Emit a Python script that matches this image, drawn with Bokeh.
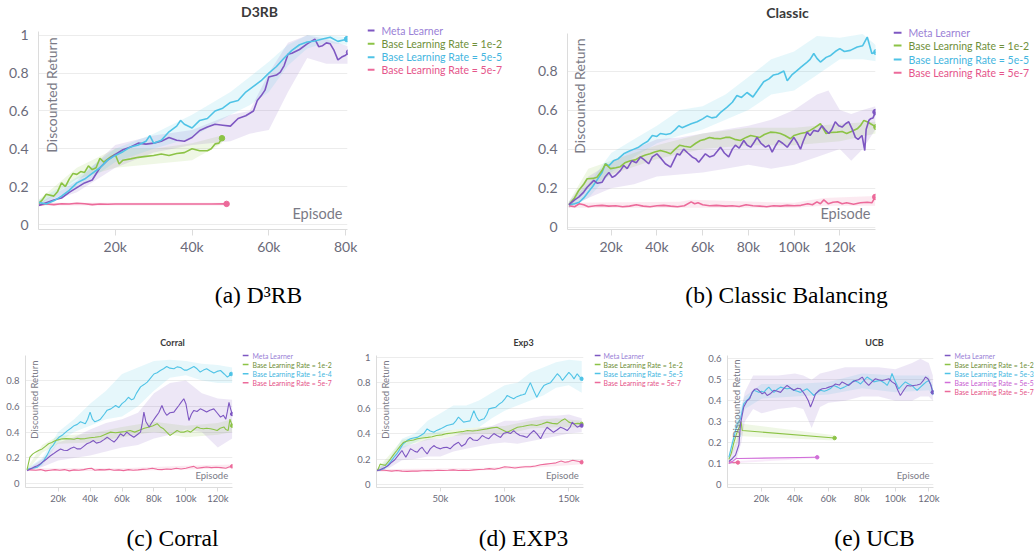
from bokeh.plotting import figure
from bokeh.models import Range1d, FixedTicker, NumeralTickFormatter, Label
from bokeh.core.properties import value
from bokeh.layouts import row, column
from bokeh.embed import file_html
from bokeh.resources import INLINE

# ------------------------------------------------------------------ data
# x values in thousands of episodes, y = discounted return
NAMES_A = ["Meta Learner", "Base Learning Rate = 1e-2", "Base Learning Rate = 5e-5", "Base Learning Rate = 5e-7"]
NAMES_B = ["Meta Learner", "Base Learning Rate = 1e-2", "Base Learning Rate = 5e-5", "Base Learning Rate = 5e-7"]
NAMES_C = ["Meta Learner", "Base Learning Rate = 1e-2", "Base Learning Rate = 1e-4", "Base Learning Rate = 5e-7"]
NAMES_D = ["Meta Learner", "Base Learning Rate = 1e-2", "Base Learning Rate = 5e-5", "Base Learning rate = 5e-7"]
NAMES_E = ["Meta Learner", "Base Learning Rate = 1e-2", "Base Learning Rate = 5e-3", "Base Learning Rate = 5e-5", "Base Learning Rate = 5e-7"]

TITLES = ["D3RB", "Classic", "Corral", "Exp3", "UCB"]
CAPTIONS = ["(a) D\u00b3RB", "(b) Classic Balancing", "(c) Corral", "(d) EXP3", "(e) UCB"]

XTICKS_A = [20, 40, 60, 80]
XTICKS_B = [20, 40, 60, 80, 100, 120]
XTICKS_C = [20, 40, 60, 80, 100, 120]
XTICKS_D = [50, 100, 150]
XTICKS_E = [20, 40, 60, 80, 100, 120]
YTICKS_A = [0, 0.2, 0.4, 0.6, 0.8, 1.0]
YTICKS_B = [0, 0.2, 0.4, 0.6, 0.8]
YTICKS_C = [0, 0.2, 0.4, 0.6, 0.8]
YTICKS_D = [0, 0.2, 0.4, 0.6, 0.8, 1.0]
YTICKS_E = [0, 0.1, 0.2, 0.3, 0.4, 0.5, 0.6]

# ---- (a) D3RB
A_META = [(0,.100),(2,.115),(4,.130),(6,.140),(8,.170),(10,.195),(12,.220),(14,.235),(16,.300),(18,.340),
          (20,.370),(22,.395),(24,.410),(26,.430),(28,.425),(30,.430),(32,.440),(34,.460),(36,.445),(38,.440),
          (40,.460),(42,.497),(44,.515),(46,.530),(48,.525),(50,.520),(52,.560),(54,.575),(56,.600),(57,.655),
          (58,.680),(59,.710),(60,.780),(62,.790),(63,.805),(64,.840),(65,.900),(66,.905),(68,.925),(70,.955),
          (72,.980),(73,.940),(74,.945),(75,.960),(76,.955),(77,.920),(78,.870),(79,.885),(80,.895),(80.9,.910)]
A_LR2 = [(0,.110),(1,.130),(2,.160),(4,.150),(5,.175),(6,.220),(7,.200),(8,.240),(9,.270),(10,.265),(11,.280),
         (12,.275),(13,.310),(14,.290),(15,.300),(16,.350),(17,.330),(18,.345),(19,.360),(20,.370),(21,.320),
         (22,.340),(24,.347),(26,.355),(28,.360),(30,.365),(32,.373),(34,.365),(36,.375),(38,.380),(40,.400),
         (42,.390),(44,.390),(45,.400),(46,.426),(47,.430),(47.8,.456)]
A_LR5 = [(0,.118),(2,.108),(4,.125),(6,.150),(8,.180),(10,.220),(12,.240),(14,.270),(16,.300),(18,.340),
         (20,.365),(22,.385),(24,.410),(26,.420),(28,.440),(29,.470),(30,.430),(32,.445),(34,.490),(36,.520),
         (37,.550),(38,.530),(40,.510),(42,.550),(44,.560),(46,.600),(48,.615),(50,.645),(52,.655),(54,.700),
         (56,.730),(58,.760),(60,.800),(62,.835),(64,.880),(66,.920),(68,.950),(70,.965),(72,.970),(74,.980),
         (76,.990),(78,.968),(80,.978),(80.4,.980)]
A_LR7 = [(0,.100),(2,.108),(4,.105),(6,.110),(8,.108),(10,.112),(12,.110),(14,.105),(16,.108),(18,.107),
         (20,.108),(25,.108),(30,.108),(35,.108),(40,.108),(45,.108),(49,.109)]
A_META_BAND = [(0,.10,.11),(10,.17,.23),(20,.30,.42),(30,.38,.47),(40,.42,.50),(50,.44,.58),(55,.48,.60),
               (60,.50,.80),(65,.70,.96),(70,.88,1.0),(75,.85,.98),(80.9,.85,.94)]
A_LR2_BAND = [(0,.10,.13),(10,.24,.30),(20,.30,.40),(30,.32,.40),(40,.34,.43),(47.8,.43,.47)]
A_LR5_BAND = [(0,.10,.13),(10,.19,.25),(20,.33,.40),(30,.40,.48),(40,.46,.58),(50,.58,.70),(55,.63,.78),
              (60,.70,.86),(65,.84,.95),(70,.93,1.0),(75,.96,1.0),(80.4,.95,.99)]
A_LR7_BAND = [(0,.10,.115),(49,.10,.115)]

# ---- (b) Classic
B_META = [(1.5,.116),(4,.140),(5.8,.154),(8,.180),(9.5,.205),(12.4,.240),(14,.225),(16,.230),(17.5,.260),(19,.280),
          (20.5,.255),(21.9,.265),(24,.290),(25.5,.316),(27,.300),(29,.340),(31,.330),(32.8,.360),(34.5,.345),
          (36.4,.325),(38,.360),(40,.376),(42,.350),(43.7,.325),(46,.308),(48.8,.376),(50,.370),(51.7,.400),
          (53.5,.380),(55.4,.360),(57,.350),(58.3,.333),(61.2,.376),(63,.360),(64.9,.367),(66.5,.390),(67.8,.410),
          (69.5,.380),(71.4,.360),(73,.400),(74.3,.420),(76,.405),(78,.444),(79.5,.420),(81,.410),(82.5,.435),
          (83.8,.460),(85.5,.430),(87.5,.410),(89,.420),(90.4,.385),(92,.420),(93.3,.444),(95,.430),(97,.410),
          (98.5,.435),(99.9,.460),(101.5,.430),(102.8,.400),(104,.440),(105.7,.487),(107,.470),(108.6,.496),
          (110.5,.490),(112.2,.520),(113.5,.500),(115.2,.480),(116.5,.500),(118,.540),(119.5,.520),(121,.513),
          (122.5,.530),(123.9,.540),(125.5,.500),(126.8,.460),(128,.450),(129.7,.470),(130.9,.393),(131.5,.500),
          (132.7,.547),(133.4,.555),(134.5,.560),(135.6,.590)]
B_LR2 = [(1.5,.115),(4,.150),(5.8,.188),(8,.220),(9.5,.248),(12,.250),(13.8,.256),(16,.290),(17.5,.325),(19.7,.300),
         (22,.305),(24,.310),(26,.330),(28.4,.340),(30.5,.345),(32.8,.360),(35,.370),(37,.376),(39,.385),(41.5,.393),
         (44,.385),(46,.376),(48,.400),(50,.420),(52,.415),(54.7,.410),(57,.430),(59,.444),(61,.450),(63,.460),
         (65,.455),(67.8,.453),(70,.460),(72,.460),(74,.450),(76.5,.444),(79,.460),(81,.470),(83,.465),(85,.460),
         (87,.475),(89.6,.487),(92,.485),(94,.480),(96,.470),(98.4,.453),(100,.470),(102.8,.480),(105,.485),
         (107,.496),(109,.510),(111.5,.530),(114,.480),(116,.485),(118.8,.487),(121,.490),(123,.480),(125,.490),
         (127.6,.504),(129,.520),(130.5,.547),(132,.540),(133.4,.530),(136,.513)]
B_LR5 = [(1.5,.115),(4,.120),(6,.128),(8,.150),(10,.180),(12,.210),(14,.245),(16,.280),(17.5,.325),(19,.315),
         (21,.340),(23,.350),(25.5,.376),(28,.390),(30,.400),(32,.410),(34,.427),(36,.440),(38,.470),(40,.465),
         (41.5,.480),(44,.475),(46,.480),(48,.500),(49.6,.520),(51,.510),(53,.520),(55,.530),(57.6,.540),(60,.555),
         (62,.570),(64,.560),(66,.565),(68,.590),(70.7,.615),(73,.640),(75,.675),(77,.665),(79.4,.690),(82,.667),
         (84,.700),(86.7,.745),(89,.760),(91,.780),(93,.785),(95.5,.800),(97,.750),(99,.780),(101,.800),(103,.820),
         (105.7,.846),(107,.860),(108.6,.890),(110,.865),(111.5,.846),(114,.870),(116,.880),(118,.900),(120,.915),
         (122,.900),(124.6,.906),(127.6,.923),(130,.930),(132,.974),(134,.890),(136,.897)]
B_LR7 = [(1.5,.110),(4,.105),(6,.120),(8,.115),(10,.105),(13,.110),(16,.112),(19,.108),(22,.110),(25,.105),
         (28,.108),(31,.115),(34,.108),(37,.105),(40,.110),(43,.112),(46,.108),(49,.105),(52,.110),(55,.130),
         (56.5,.120),(58,.125),(60,.115),(63,.110),(66,.112),(70,.108),(73,.110),(76,.106),(79,.115),(82,.110),
         (85,.108),(88,.105),(91,.110),(94,.108),(97,.112),(100,.110),(103,.112),(106,.120),(108,.115),(110,.130),
         (111.5,.120),(113,.140),(115,.120),(117,.128),(119,.130),(121,.120),(123,.125),(126,.118),(129,.125),
         (132,.128),(134,.125),(135.5,.155)]
B_META_BAND = [(1.5,.10,.13),(10,.15,.26),(20,.20,.33),(30,.22,.40),(40,.26,.45),(50,.27,.46),(60,.28,.48),
               (70,.30,.50),(80,.32,.52),(90,.30,.55),(100,.32,.60),(110,.36,.68),(115,.38,.70),(120,.40,.60),
               (125,.34,.58),(130,.40,.60),(135.6,.50,.62)]
B_LR2_BAND = [(1.5,.10,.13),(10,.20,.30),(20,.27,.34),(40,.35,.42),(60,.40,.48),(80,.42,.51),(100,.42,.51),
              (120,.44,.53),(136,.48,.54)]
B_LR5_BAND = [(1.5,.10,.13),(10,.15,.22),(20,.28,.38),(30,.36,.45),(40,.43,.52),(50,.47,.60),(60,.50,.62),
              (70,.55,.68),(80,.60,.77),(90,.68,.86),(100,.70,.90),(110,.78,.98),(120,.86,.97),(130,.86,.99),
              (136,.85,.93)]
B_LR7_BAND = [(1.5,.10,.125),(50,.10,.13),(55,.10,.14),(100,.10,.125),(113,.11,.15),(135.5,.11,.16)]

# ---- (c) Corral
C_META = [(0.5,.100),(2.5,.115),(4.8,.129),(7,.140),(9,.155),(11,.175),(13,.194),(15,.215),(17,.232),(19,.250),
          (21.5,.270),(23.5,.260),(25.7,.258),(28,.275),(30,.284),(32,.270),(34,.270),(36,.290),(38,.310),(40,.320),
          (42,.335),(44,.315),(46.5,.323),(48.5,.340),(50.7,.360),(53,.340),(55,.323),(57,.350),(59,.387),(61,.370),
          (63,.400),(65,.380),(67.4,.360),(69.5,.380),(71.6,.400),(72.7,.470),(73.7,.555),(75,.480),(77,.440),
          (79,.480),(81,.516),(83,.550),(85,.606),(86.5,.560),(88,.530),(90,.550),(92.5,.555),(94,.580),(95.6,.606),
          (97,.630),(98.7,.658),(100,.620),(101.9,.490),(103.5,.540),(105,.568),(107,.560),(109,.580),(111,.570),
          (113,.555),(115,.570),(117.5,.580),(119.5,.550),(121.7,.516),(123.5,.530),(125,.500),(126,.560),
          (127,.630),(128,.580),(129,.540)]
C_LR2 = [(0.5,.108),(2.3,.206),(4,.230),(5.8,.245),(8,.260),(10,.270),(12,.290),(14,.310),(16,.320),(18.4,.335),
         (20,.340),(22.5,.348),(25,.350),(27.8,.348),(30,.345),(32,.352),(34,.348),(37,.350),(40,.356),(43,.360),
         (46.5,.366),(49,.380),(52.8,.400),(56,.395),(59,.400),(62,.405),(65,.413),(68,.400),(71.6,.418),(74,.430),
         (77,.440),(79.5,.450),(82,.465),(84,.440),(86,.426),(88,.400),(90,.374),(92,.390),(94.5,.413),(96.5,.400),
         (98.7,.400),(101,.410),(103,.400),(105,.420),(107,.440),(109,.430),(111,.426),(113,.430),(115.4,.426),
         (117.5,.420),(119.6,.413),(121.5,.430),(123.8,.440),(125,.420),(126.5,.413),(127.6,.500),(129,.450)]
C_LR4 = [(0.5,.110),(2,.116),(4,.120),(7,.129),(9,.150),(11,.180),(13,.220),(15,.270),(17,.300),(19,.340),
         (20.5,.360),(23,.380),(25.7,.410),(28,.430),(30,.450),(32,.460),(34,.480),(37,.465),(38.5,.500),(40,.555),
         (41.5,.500),(43,.480),(45,.490),(46.5,.500),(49,.540),(50.7,.570),(53,.580),(56,.606),(58,.590),(60,.620),
         (62,.640),(64,.670),(66,.650),(67.4,.658),(69,.700),(71.6,.750),(74,.770),(75.8,.787),(78,.820),(80,.850),
         (82,.860),(84,.877),(86,.890),(88,.908),(90,.895),(92.5,.890),(94.5,.905),(96.7,.900),(99,.880),
         (100.8,.880),(103,.895),(105,.908),(107,.890),(109,.865),(111,.880),(113,.890),(115,.875),(117.5,.857),
         (119.5,.870),(121.7,.877),(124,.850),(126,.826),(127.5,.840),(128.4,.850)]
C_LR7 = [(0.5,.110),(3,.108),(6,.105),(9,.110),(12,.100),(15,.105),(18,.110),(21,.105),(24,.110),(27,.100),
         (30,.108),(33,.105),(36,.110),(39,.118),(41,.120),(43,.105),(46,.110),(49,.108),(52,.112),(55,.105),
         (58,.108),(61,.102),(64,.110),(67,.105),(70,.108),(73,.112),(76,.115),(79,.120),(82,.112),(85,.110),
         (88,.115),(91,.112),(94,.120),(97,.115),(100,.120),(103,.130),(105,.135),(107,.120),(110,.125),(113,.130),
         (116,.125),(119,.128),(122,.125),(125,.120),(127,.130),(129,.135)]
C_META_BAND = [(0.5,.10,.11),(10,.13,.19),(20,.18,.32),(30,.20,.36),(40,.22,.42),(50,.25,.47),(60,.28,.50),
               (70,.30,.55),(80,.35,.70),(90,.38,.78),(100,.42,.80),(110,.40,.70),(120,.28,.66),(129,.35,.65)]
C_LR2_BAND = [(0.5,.10,.12),(10,.24,.30),(20,.31,.37),(40,.32,.39),(60,.36,.44),(80,.40,.48),(100,.36,.45),
              (120,.38,.47),(129,.40,.50)]
C_LR4_BAND = [(0.5,.10,.12),(10,.14,.20),(20,.32,.40),(30,.40,.50),(40,.45,.62),(50,.50,.72),(60,.52,.85),
              (70,.60,.90),(80,.72,.95),(90,.82,.96),(100,.84,.95),(110,.80,.93),(120,.78,.92),(129,.78,.90)]
C_LR7_BAND = [(0.5,.10,.12),(60,.10,.12),(100,.11,.14),(129,.12,.15)]

# ---- (d) Exp3
D_META = [(0.5,.110),(3,.115),(7,.136),(9.5,.150),(12,.175),(14,.190),(16,.215),(18,.240),(20,.267),(21.5,.240),
          (23,.215),(25,.250),(26.6,.280),(28.5,.270),(30,.260),(32,.254),(34,.280),(35.7,.293),(37.5,.265),
          (39.6,.240),(42,.280),(44.8,.306),(47,.290),(50,.280),(52.5,.290),(55,.293),(57.5,.280),(60,.306),
          (62,.320),(64,.332),(66.5,.300),(69.5,.320),(71,.350),(73,.370),(75.5,.350),(78.6,.345),(80.5,.360),
          (82.5,.385),(85,.370),(87.7,.360),(89.5,.380),(91.6,.400),(94,.385),(96.8,.370),(99,.400),(102,.410),
          (104.5,.400),(107,.424),(109.5,.400),(112,.385),(114.5,.380),(117.5,.370),(120,.400),(122.7,.424),
          (125,.400),(128,.360),(130.5,.410),(133,.450),(135.5,.430),(138,.410),(141,.430),(143.5,.450),(146,.440),
          (148.7,.424),(151,.450),(152.6,.490),(154.5,.470),(156.5,.450),(158.5,.460),(160,.463)]
D_LR2 = [(0.5,.110),(1.4,.120),(3,.160),(5,.155),(7,.150),(9,.175),(11,.200),(13.5,.235),(16,.267),(18.5,.300),
         (21,.330),(23.5,.340),(26.6,.345),(29,.350),(32,.360),(36,.365),(40,.370),(43.5,.375),(47,.385),(51,.390),
         (55,.400),(59,.405),(63,.410),(67,.415),(71,.424),(75,.420),(78.6,.424),(82,.430),(86,.437),(90,.445),
         (94,.450),(98,.430),(102,.410),(106,.430),(110,.450),(114,.455),(117.5,.463),(121,.470),(125,.463),
         (129,.475),(133,.490),(137,.480),(141,.476),(144,.500),(147,.516),(150,.490),(154,.476),(157,.480),
         (160,.476)]
D_LR5 = [(1,.110),(3,.115),(5.8,.123),(8,.140),(11,.175),(13.5,.210),(16,.240),(18.5,.280),(21,.320),(24,.345),
         (26.6,.360),(29,.365),(32,.370),(34.5,.385),(37,.400),(39.6,.437),(42,.420),(44.8,.410),(47,.425),
         (50,.437),(52.5,.450),(55,.463),(57.5,.470),(60,.476),(62,.500),(64,.530),(66,.510),(68,.490),
         (70.5,.495),(73,.500),(74.5,.540),(76,.580),(78,.530),(80,.500),(82,.510),(84,.516),(86,.550),
         (87.7,.594),(90,.600),(93,.607),(95.5,.630),(98,.647),(100,.670),(102,.700),(104.5,.685),(107,.673),
         (109.5,.690),(112,.700),(114,.705),(116,.712),(118,.760),(120,.800),(122.5,.740),(125,.686),(128,.740),
         (130.5,.777),(133,.790),(135.7,.800),(138,.830),(141,.870),(143,.850),(145,.817),(147.5,.850),(150,.880),
         (152,.860),(154,.830),(156.5,.870),(158,.850),(160,.830)]
D_LR7 = [(0.5,.110),(4,.115),(8,.110),(12,.105),(16,.110),(20,.105),(24,.103),(28,.105),(32,.105),(36,.108),
         (40,.110),(44,.108),(48,.112),(52,.110),(56,.112),(60,.115),(64,.110),(68,.112),(72,.110),(76,.115),
         (80,.118),(84,.120),(88,.125),(92,.120),(96,.128),(100,.140),(104,.135),(108,.130),(112,.135),(116,.140),
         (120,.140),(124,.145),(128,.155),(132,.160),(136,.165),(140,.170),(144,.185),(147,.175),(150,.180),
         (153,.190),(156,.185),(158,.180),(160,.175)]
D_META_BAND = [(0.5,.10,.12),(10,.13,.18),(20,.19,.30),(30,.20,.32),(40,.22,.36),(50,.22,.36),(60,.26,.38),
               (70,.28,.42),(80,.30,.44),(90,.32,.46),(100,.33,.50),(110,.32,.50),(120,.34,.52),(130,.36,.54),
               (140,.38,.54),(150,.40,.55),(160,.41,.52)]
D_LR2_BAND = [(0.5,.10,.12),(10,.17,.23),(20,.30,.35),(40,.35,.40),(60,.38,.43),(80,.40,.45),(100,.39,.46),
              (120,.44,.50),(140,.45,.52),(160,.45,.50)]
D_LR5_BAND = [(0.5,.10,.12),(10,.15,.20),(20,.28,.36),(30,.33,.40),(40,.38,.50),(50,.40,.56),(60,.43,.62),
              (70,.44,.62),(80,.45,.66),(90,.52,.72),(100,.58,.78),(110,.62,.80),(120,.66,.88),(130,.70,.92),
              (140,.76,.96),(150,.78,.98),(160,.72,.97)]
D_LR7_BAND = [(0.5,.10,.12),(80,.11,.13),(120,.13,.15),(160,.16,.19)]

# ---- (e) UCB
E_META = [(0.5,.110),(2.5,.123),(4.5,.140),(6.5,.190),(7.5,.290),(9.4,.370),(11.4,.400),(13,.410),(14.4,.440),
          (16,.455),(17.4,.457),(19,.445),(20.4,.433),(22,.440),(23.4,.425),(25.5,.435),(27.4,.450),(29.5,.445),
          (31.4,.440),(33.5,.460),(35.3,.473),(37.5,.460),(39.3,.450),(41.5,.460),(43.3,.457),(45,.440),
          (46.3,.425),(48,.400),(49.3,.370),(50.8,.400),(52.3,.433),(54.5,.450),(56.3,.457),(58.5,.460),
          (60.3,.465),(62.5,.470),(64.2,.480),(66.5,.475),(68.2,.490),(70.5,.480),(72.2,.473),(74.5,.490),
          (76.2,.497),(78,.500),(80.2,.513),(82,.490),(84.1,.473),(86,.490),(88.1,.505),(90,.500),(92.1,.497),
          (94,.500),(96.1,.505),(98,.490),(100,.480),(101.5,.450),(103,.425),(105,.450),(107,.473),(109,.470),
          (111,.473),(113,.475),(115,.480),(117,.500),(118,.513),(119.5,.505),(121,.480),(122.4,.440)]
E_LR2 = [(0.5,.120),(2,.150),(3.5,.200),(5,.240),(6.5,.270),(7.8,.300),(8.5,.258),(63.7,.222)]
E_LR3 = [(0.5,.130),(2.5,.194),(4,.240),(5.5,.290),(7.5,.314),(9.4,.385),(11,.400),(12.4,.410),(14,.430),
         (15.4,.450),(17,.445),(18.4,.440),(20,.445),(21.4,.440),(23,.455),(24.4,.465),(26,.450),(27.4,.440),
         (29.5,.455),(31.4,.465),(33.5,.460),(35.3,.457),(37.5,.460),(39.3,.450),(41.5,.445),(43.3,.440),
         (45.5,.450),(47.3,.457),(49.5,.440),(51.3,.425),(53.5,.440),(55.3,.450),(57.5,.445),(59.2,.450),
         (61.5,.460),(63.2,.473),(65.5,.465),(67.2,.457),(69.5,.465),(71.2,.473),(73.5,.485),(75.2,.497),
         (77.5,.490),(79.2,.480),(81.5,.500),(83.1,.513),(85.5,.500),(87.1,.490),(89.5,.495),(91.1,.497),
         (93.5,.485),(95.1,.473),(96.8,.500),(98,.530),(99.5,.500),(102,.457),(104,.475),(106,.490),(108,.480),
         (110,.473),(111.5,.460),(113,.450),(115,.465),(117,.480),(118.5,.490),(120,.497),(121.5,.470),(122.4,.440)]
E_LR5 = [(0.5,.100),(2,.105),(3.5,.115),(5,.125),(6,.124),(53.3,.130)]
E_LR7 = [(0.5,.105),(2,.108),(3.5,.104),(5,.106),(5.9,.105)]
E_META_BAND = [(0.5,.10,.12),(5,.12,.20),(8,.20,.36),(10,.30,.44),(15,.36,.52),(20,.34,.52),(30,.36,.52),
               (40,.37,.53),(45,.36,.52),(50,.27,.50),(55,.37,.53),(60,.39,.54),(70,.40,.56),(80,.42,.56),
               (90,.42,.56),(100,.40,.55),(110,.40,.58),(115,.42,.60),(120,.42,.58),(122.4,.40,.52)]
E_LR2_BAND = [(0.5,.11,.13),(7.8,.24,.30),(8.5,.23,.29),(63.7,.21,.235)]
E_LR3_BAND = [(0.5,.12,.14),(5,.24,.32),(10,.36,.42),(20,.41,.48),(40,.42,.48),(60,.43,.49),(80,.46,.53),
              (100,.44,.52),(120,.45,.52),(122.4,.42,.47)]
E_LR5_BAND = [(0.5,.10,.11),(53.3,.125,.135)]
E_LR7_BAND = [(0.5,.10,.11),(5.9,.10,.11)]

# ------------------------------------------------------------------ styles
PURPLE, GREEN, CYAN, PINK, MAGENTA = "#7e57c2", "#8cc346", "#4fc3e6", "#ec6a9a", "#d16fd9"
T_PURPLE, T_GREEN, T_CYAN, T_PINK, T_MAGENTA = "#9a7fd6", "#6f8f3a", "#45b6e0", "#e5558a", "#c860d2"
FONT = "Lato"
TICK_COLOR = "#6b6b7a"
LABEL_COLOR = "#7a7a86"
PAGE_W = 1035

# geometry in page pixels.  ox/oy: figure origin; l/fw/r: left border, frame width, right border;
# fb: frame bottom; zero/ppu: page y of value 0 and pixels per unit; ytop: top of the drawn axis
PANELS = [
    dict(names=NAMES_A, xticks=XTICKS_A, yticks=YTICKS_A, title=TITLES[0], big=True,
         series=[(A_META, A_META_BAND, PURPLE, T_PURPLE), (A_LR2, A_LR2_BAND, GREEN, T_GREEN),
                 (A_LR5, A_LR5_BAND, CYAN, T_CYAN), (A_LR7, A_LR7_BAND, PINK, T_PINK)],
         order=[3, 1, 0, 2],
         ox=0, oy=0, l=38, fw=309, r=20, fb=229, b=33, legw=153, xr=(0, 80500),
         zero=224, ppu=189.2, ytop=1.02,
         leg_rows=[30, 43.3, 56.7, 69.3], leg_x=367, leg_gw=7, leg_text=381,
         dr=(42, 37), ep=(342, 221), title_at=(259, 11)),
    dict(names=NAMES_B, xticks=XTICKS_B, yticks=YTICKS_B, title=TITLES[1], big=True,
         series=[(B_META, B_META_BAND, PURPLE, T_PURPLE), (B_LR2, B_LR2_BAND, GREEN, T_GREEN),
                 (B_LR5, B_LR5_BAND, CYAN, T_CYAN), (B_LR7, B_LR7_BAND, PINK, T_PINK)],
         order=[3, 2, 1, 0],
         ox=520, oy=0, l=47, fw=308, r=18, fb=229, b=33, legw=142, xr=(900, 135600),
         zero=226.7, ppu=195.2, ytop=0.993,
         leg_rows=[32.3, 45, 59, 72.3], leg_x=893, leg_gw=8, leg_text=908,
         dr=(570, 38), ep=(870, 221.3), title_at=(787, 12)),
    dict(names=NAMES_C, xticks=XTICKS_C, yticks=YTICKS_C, title=TITLES[2], big=False,
         series=[(C_META, C_META_BAND, PURPLE, T_PURPLE), (C_LR2, C_LR2_BAND, GREEN, T_GREEN),
                 (C_LR4, C_LR4_BAND, CYAN, T_CYAN), (C_LR7, C_LR7_BAND, PINK, T_PINK)],
         order=[3, 2, 1, 0],
         ox=0, oy=320, l=25, fw=207, r=10, fb=487, b=21, legw=98, xr=(-440, 129200),
         zero=483.3, ppu=129.2, ytop=0.993,
         leg_rows=[355, 364, 373.3, 382.3], leg_x=242, leg_gw=6, leg_text=252,
         dr=(28, 360), ep=(227.7, 480.7), title_at=(172, 342)),
    dict(names=NAMES_D, xticks=XTICKS_D, yticks=YTICKS_D, title=TITLES[3], big=False,
         series=[(D_META, D_META_BAND, PURPLE, T_PURPLE), (D_LR2, D_LR2_BAND, GREEN, T_GREEN),
                 (D_LR5, D_LR5_BAND, CYAN, T_CYAN), (D_LR7, D_LR7_BAND, PINK, T_PINK)],
         order=[3, 2, 1, 0],
         ox=340, oy=320, l=36, fw=207, r=11, fb=487, b=21, legw=96, xr=(160, 161400),
         zero=484, ppu=127.3, ytop=1.013,
         leg_rows=[355, 364, 373, 382], leg_x=594, leg_gw=6, leg_text=603,
         dr=(379, 360), ep=(578.3, 480.7), title_at=(523, 342)),
    dict(names=NAMES_E, xticks=XTICKS_E, yticks=YTICKS_E, title=TITLES[4], big=False,
         series=[(E_META, E_META_BAND, PURPLE, T_PURPLE), (E_LR2, E_LR2_BAND, GREEN, T_GREEN),
                 (E_LR3, E_LR3_BAND, CYAN, T_CYAN), (E_LR5, E_LR5_BAND, MAGENTA, T_MAGENTA),
                 (E_LR7, E_LR7_BAND, PINK, T_PINK)],
         order=[4, 3, 1, 2, 0],
         ox=690, oy=320, l=37, fw=206, r=11, fb=487, b=21, legw=91, xr=(-300, 122800),
         zero=484, ppu=209.4, ytop=0.616,
         leg_rows=[355, 364, 373, 382, 391], leg_x=944, leg_gw=6, leg_text=954,
         dr=(730, 359), ep=(929, 480.7), title_at=(874, 342)),
]

# caption strips (page y of the strip top, strip height, captions with centre x / centre y)
TOP_CAPTIONS = dict(y0=262, h=58, items=[(CAPTIONS[0], 258, 294), (CAPTIONS[1], 786, 294)])
BOTTOM_CAPTIONS = dict(y0=508, h=44, items=[(CAPTIONS[2], 172, 537), (CAPTIONS[3], 523, 537),
                                             (CAPTIONS[4], 874, 537)])


def pixel_fig(w, fh, b):
    """A figure whose frame data space is pixels (y grows downwards from the frame top)."""
    f = figure(width=w, height=fh + b, frame_width=w, frame_height=fh, title=None,
               min_border_left=0, min_border_right=0, min_border_top=0, min_border_bottom=b,
               x_range=Range1d(0, w), y_range=Range1d(fh, 0), x_axis_type=None, y_axis_type=None,
               output_backend="svg", toolbar_location=None,
               background_fill_color="white", border_fill_color="white")
    f.outline_line_color = None
    f.grid.visible = False
    return f


def caption_strip(spec):
    f = pixel_fig(PAGE_W, spec["h"], 0)
    f.text(x=[c[1] for c in spec["items"]], y=[c[2] - spec["y0"] for c in spec["items"]],
           text=[c[0] for c in spec["items"]], text_align="center", text_baseline="middle",
           text_font=value("Liberation Serif"), text_font_size="23.5px", text_color="black")
    return f


def build(cfg):
    big = cfg["big"]
    fh = cfg["fb"] - cfg["oy"]
    W = cfg["l"] + cfg["fw"] + cfg["r"]
    fl = cfg["ox"] + cfg["l"]
    fb = cfg["fb"]
    x0, x1 = cfg["xr"]
    y0 = -(fb - cfg["zero"]) / cfg["ppu"]
    y1 = (cfg["zero"] - cfg["oy"]) / cfg["ppu"]

    def dx(px):
        return x0 + (px - fl) / cfg["fw"] * (x1 - x0)

    def dy(py):
        return (cfg["zero"] - py) / cfg["ppu"]

    p = figure(width=W, height=fh + cfg["b"], frame_width=cfg["fw"], frame_height=fh, title=None,
               min_border_left=cfg["l"], min_border_right=cfg["r"],
               min_border_top=0, min_border_bottom=cfg["b"],
               x_range=Range1d(x0, x1), y_range=Range1d(y0, y1),
               output_backend="svg", toolbar_location=None,
               background_fill_color="white", border_fill_color="white")
    p.outline_line_color = None
    p.xgrid.visible = False
    p.ygrid.grid_line_color = "#ececec"
    p.ygrid.ticker = FixedTicker(ticks=cfg["yticks"])

    tick_fs = "14px" if big else "9.5px"
    p.xaxis.ticker = FixedTicker(ticks=[v * 1000 for v in cfg["xticks"]])
    p.xaxis.formatter = NumeralTickFormatter(format="0a")
    p.yaxis.ticker = FixedTicker(ticks=cfg["yticks"])
    p.yaxis.formatter = NumeralTickFormatter(format="0.[0]")
    p.yaxis.bounds = (y0, cfg["ytop"])
    for ax in (p.xaxis, p.yaxis):
        ax.axis_line_color = "#dcdcdc"
        ax.major_tick_line_color = "#dcdcdc"
        ax.minor_tick_line_color = None
        ax.major_tick_in = 0
        ax.major_label_text_font = FONT
        ax.major_label_text_font_size = tick_fs
        ax.major_label_text_color = TICK_COLOR
    p.xaxis.major_tick_out = 6 if big else 4
    p.xaxis.major_label_standoff = 2 if big else 1
    p.yaxis.major_tick_out = 0
    p.yaxis.major_label_standoff = 10 if big else 6

    lw = 1.6 if big else 1.1
    for i in cfg["order"]:
        pts, band, col, tcol = cfg["series"][i]
        p.varea(x=[v[0] * 1000 for v in band], y1=[v[1] for v in band], y2=[v[2] for v in band],
                fill_color=col, fill_alpha=0.14)
    for i in cfg["order"]:
        pts, band, col, tcol = cfg["series"][i]
        xs = [v[0] * 1000 for v in pts]
        ys = [v[1] for v in pts]
        p.line(xs, ys, line_color=col, line_width=lw)
        p.scatter([xs[-1]], [ys[-1]], size=5.5 if big else 3.5, color=col)

    lab_fs = "14px" if big else "9.5px"
    p.add_layout(Label(x=dx(cfg["dr"][0]), y=dy(cfg["dr"][1]), text="Discounted Return", angle=90,
                       angle_units="deg", text_align="right", text_baseline="top",
                       text_font=FONT, text_font_size=lab_fs, text_color=LABEL_COLOR))
    p.add_layout(Label(x=dx(cfg["ep"][0]), y=dy(cfg["ep"][1]), text="Episode",
                       text_align="right", text_baseline="bottom",
                       text_font=FONT, text_font_size="14.5px" if big else "9.5px",
                       text_color=LABEL_COLOR))
    # chart title (centred over chart + legend, as in the source dashboard)
    p.add_layout(Label(x=dx(cfg["title_at"][0]), y=dy(cfg["title_at"][1]), text=cfg["title"],
                       text_align="center", text_baseline="middle", text_font=FONT,
                       text_font_style="bold", text_font_size="14px" if big else "9px",
                       text_color="#3a3a3a"))

    # ---- legend panel to the right of the plot (each entry keeps its own colour)
    lg = pixel_fig(cfg["legw"], fh, cfg["b"])
    lg_x0 = cfg["ox"] + W
    n = len(cfg["series"])
    rows_y = [cfg["leg_rows"][i] - cfg["oy"] for i in range(n)]
    gx = cfg["leg_x"] - lg_x0
    lg.segment(x0=[gx] * n, y0=rows_y, x1=[gx + cfg["leg_gw"]] * n, y1=rows_y,
               line_color=[s[2] for s in cfg["series"]], line_width=2 if big else 1.4)
    lg.text(x=[cfg["leg_text"] - lg_x0] * n, y=rows_y, text=cfg["names"],
            text_color=[s[3] for s in cfg["series"]], text_align="left", text_baseline="middle",
            text_font=value(FONT), text_font_size="10.5px" if big else "6.9px")
    return p, lg


parts = [build(c) for c in PANELS]
top = row(parts[0][0], parts[0][1], parts[1][0], parts[1][1])
bottom = row(parts[2][0], parts[2][1], parts[3][0], parts[3][1], parts[4][0], parts[4][1])
layout = column(top, caption_strip(TOP_CAPTIONS), bottom, caption_strip(BOTTOM_CAPTIONS))

with open("out.html", "w") as f:
    f.write(file_html(layout, INLINE))
